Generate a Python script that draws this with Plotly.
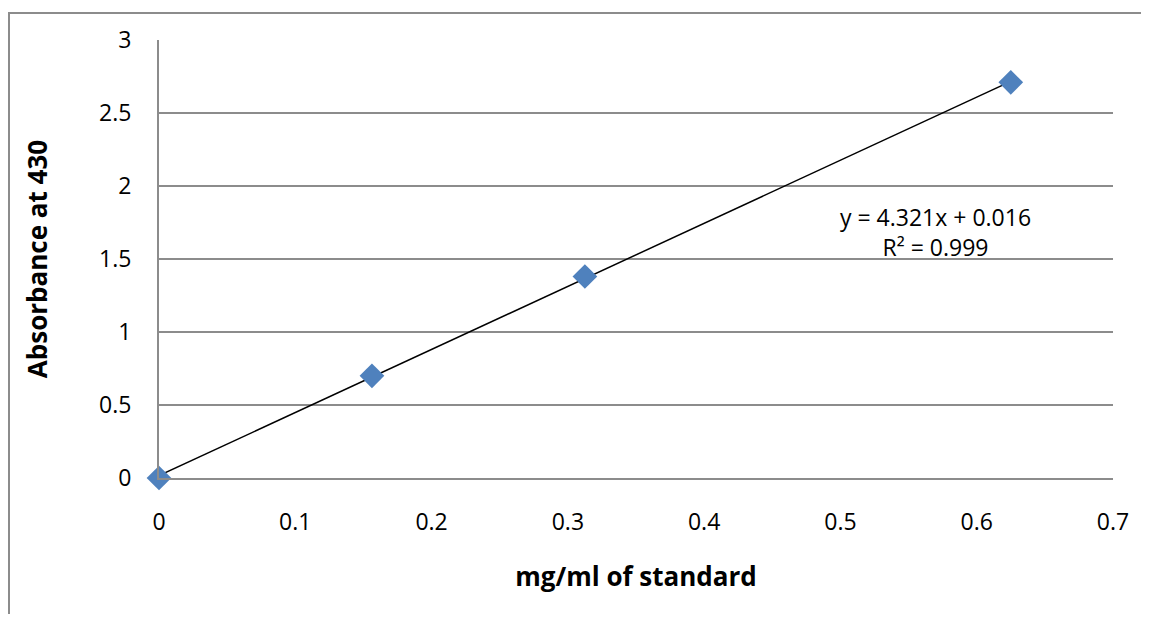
import plotly.graph_objects as go

conc = [0, 0.15625, 0.3125, 0.625]
absorb = [0.0, 0.70, 1.38, 2.71]
slope = 4.321
intercept = 0.016
fit_x = [0, 0.625]
fit_y = [slope * x + intercept for x in fit_x]
eq_text = "y = 4.321x + 0.016<br>R² = 0.999"

# page has 8px body margin on every side
W, H = 1133, 606
L, R, T, B = 151, 28, 32, 136
pw, ph = W - L - R, H - T - B

fig = go.Figure()
fig.add_trace(go.Scatter(x=fit_x, y=fit_y, mode="lines", cliponaxis=False,
                         line=dict(color="black", width=1.5), showlegend=False))
fig.add_trace(go.Scatter(x=conc, y=absorb, mode="markers", cliponaxis=False,
                         marker=dict(symbol="diamond", size=19, color="#4F81BD",
                                     line=dict(width=0)), showlegend=False))

fig.add_annotation(x=0.5695, y=1.685, xref="x", yref="y", text=eq_text,
                   showarrow=False, font=dict(size=23, color="black"), align="center")

# outer chart border
fig.add_shape(type="rect", xref="paper", yref="paper",
              x0=(1 - L) / pw, x1=1.2, y0=-0.5, y1=(H - B - 5) / ph,
              line=dict(color="#8c8c8c", width=2), fillcolor="rgba(0,0,0,0)", layer="below")

fig.update_layout(
    width=W, height=H,
    margin=dict(l=L, r=R, t=T, b=B),
    paper_bgcolor="white", plot_bgcolor="white",
    font=dict(family="Open Sans, sans-serif", color="black"),
    xaxis=dict(range=[0, 0.7], dtick=0.1, showgrid=False, zeroline=False,
               showline=True, linecolor="#8c8c8c", linewidth=2,
               tickfont=dict(size=23), ticks="", ticklabelstandoff=22,
               tickformat="~g",
               title=dict(text="<b>mg/ml of standard</b>", font=dict(size=26), standoff=32)),
    yaxis=dict(range=[0, 3], dtick=0.5, showgrid=True, gridcolor="#8c8c8c", gridwidth=2,
               zeroline=False, showline=True, linecolor="#8c8c8c", linewidth=2,
               tickfont=dict(size=23), ticks="", ticklabelstandoff=21,
               tickformat="~g",
               title=dict(text="<b>Absorbance at 430</b>", font=dict(size=26), standoff=44)),
)

fig.write_html("out.html")
